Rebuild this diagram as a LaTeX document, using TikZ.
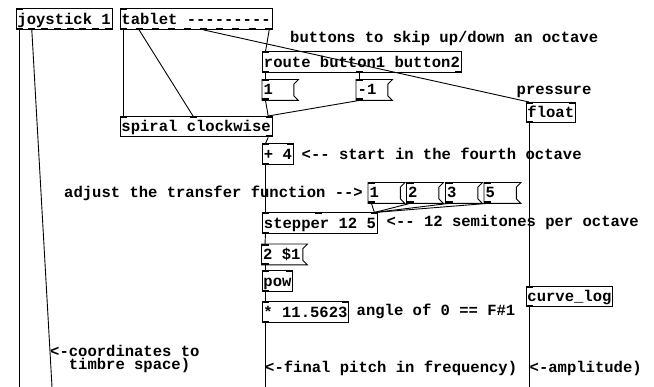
\documentclass[tikz,border=0pt]{standalone}
\usepackage{fontspec}
\setmonofont{Liberation Mono}
\newcommand\pdin[2]{\fill ([xshift=#2]#1.north west) rectangle ++(7,2);}
\newcommand\pdinr[1]{\fill ([xshift=-7pt]#1.north east) rectangle ++(7,2);}
\newcommand\pdout[2]{\fill ([xshift=#2]#1.south west) rectangle ++(7,-2);}
\newcommand\pdoutr[1]{\fill ([xshift=-7pt]#1.south east) rectangle ++(7,-2);}
\newcommand\pdmsg[1]{\draw[border] (#1.north west) -- (#1.north east) -- ([xshift=-4.5pt,yshift=-4.5pt]#1.north east) -- ([xshift=-4.5pt,yshift=4.5pt]#1.south east) -- (#1.south east) -- (#1.south west) -- cycle;}
\tikzset{
  pdtext/.style={font=\ttfamily\bfseries\fontsize{15.55}{11}\selectfont},
  obj/.style={pdtext, draw, line width=0.9pt, anchor=north west, inner xsep=1.5pt, inner ysep=0pt, minimum height=20.5pt, text height=12pt, text depth=2pt},
  msgbox/.style={pdtext, anchor=north west, inner xsep=1.5pt, inner ysep=0pt, minimum height=20.5pt, text height=12pt, text depth=2pt, text width=#1, align=left, execute at begin node={\spaceskip=0pt\xspaceskip=0pt\relax}},
  note/.style={pdtext, anchor=base west, inner sep=0pt},
  wire/.style={line width=0.9pt},
  border/.style={line width=0.9pt},
}
\begin{document}
\begin{tikzpicture}[x=1pt,y=-1pt]
\useasboundingbox (0,0) rectangle (654,387);
\fill[white] (0,0) rectangle (654,387);
% objects
\node[obj] (joy) at (15.5,8.5) {joystick 1};
\node[obj] (tab) at (119.5,8.5) {tablet ---------};
\node[obj] (route) at (262,51.5) {route button1 button2};
\node[msgbox=33pt] (m1) at (262,79.5) {1};
\node[msgbox=33pt] (mm1) at (356,79.5) {-1};
\node[obj] (spiral) at (119.5,116) {spiral clockwise};
\node[obj] (plus) at (262,143.5) {+ 4};
\node[msgbox=33.5pt] (t1) at (368,182.5) {1};
\node[msgbox=33.5pt] (t2) at (406.5,182.5) {2};
\node[msgbox=33.5pt] (t3) at (445.5,182.5) {3};
\node[msgbox=33.5pt] (t5) at (484,182.5) {5};
\node[obj] (stp) at (262,212.5) {stepper 12 5};
\node[msgbox=42.5pt] (pw) at (261.5,244) {2 \$1};
\node[obj] (pow) at (261.5,270.5) {pow};
\node[obj] (mul) at (261.5,301.5) {* 11.5623};
\node[obj] (flt) at (525.5,102) {float};
\node[obj] (clog) at (525.5,286) {curve\_log};
\foreach \m in {m1,mm1,t1,t2,t3,t5,pw} {\pdmsg{\m}}
% comments
\node[note] (c1) at (290,42.5) {buttons to skip up/down an octave};
\node[note] (c2) at (516.5,94.5) {pressure};
\node[note] (c3) at (301.5,159.5) {<-- start in the fourth octave};
\node[note] (c4) at (64,197.5) {adjust the transfer function -->};
\node[note] (c5) at (386.5,226.5) {<-- 12 semitones per octave};
\node[note] (c6) at (356.5,315.5) {angle of 0 == F\#1};
\node[note, align=left, execute at begin node={\spaceskip=0pt\xspaceskip=0pt\relax}] (c7) at (50,369.3) {<-coordinates to\\\hspace*{1.2em}timbre space)};
\node[note] (c9) at (265,372.5) {<-final pitch in frequency)};
\node[note] (c10) at (529.5,372.5) {<-amplitude)};
% many outlets of joystick and tablet
\draw[line width=2.5pt, dash pattern=on 7pt off 5.76pt] ([yshift=1pt]joy.south west) -- ([yshift=1pt]joy.south east);
\draw[line width=2.5pt, dash pattern=on 7pt off 9.14pt] ([yshift=1pt]tab.south west) -- ([yshift=1pt]tab.south east);
% inlets and outlets
\pdin{joy}{0pt} \pdin{tab}{0pt}
\pdin{route}{0pt} \pdout{route}{0pt} \pdout{route}{94pt} \pdoutr{route}
\pdin{m1}{0pt} \pdout{m1}{0pt} \pdin{mm1}{0pt} \pdout{mm1}{0pt}
\pdin{spiral}{0pt} \pdin{spiral}{70pt} \pdinr{spiral} \pdoutr{spiral}
\pdin{plus}{0pt} \pdinr{plus} \pdout{plus}{0pt}
\foreach \m in {t1,t2,t3,t5,pw,clog} {\pdin{\m}{0pt} \pdout{\m}{0pt}}
\pdin{stp}{0pt} \pdin{stp}{53pt} \pdinr{stp} \pdout{stp}{0pt}
\foreach \m in {pow,mul,flt} {\pdin{\m}{0pt} \pdinr{\m} \pdout{\m}{0pt}}
% free ends
\coordinate (jb1) at (19,387);
\coordinate (jb2) at (52,387);
\coordinate (mb) at (265,387);
\coordinate (cb) at (529,387);
% wires
\draw[wire] ([xshift=3.5pt]joy.south west) -- (jb1);
\draw[wire] ([xshift=16.3pt]joy.south west) -- (jb2);
\draw[wire] ([xshift=3.5pt]tab.south west) -- ([xshift=3.5pt]spiral.north west);
\draw[wire] ([xshift=19.6pt]tab.south west) -- ([xshift=73.5pt]spiral.north west);
\draw[wire] ([xshift=84pt]tab.south west) -- ([xshift=3.5pt]flt.north west);
\draw[wire] ([xshift=-3.5pt]tab.south east) -- ([xshift=3.5pt]route.north west);
\draw[wire] ([xshift=3.5pt]route.south west) -- ([xshift=3.5pt]m1.north west);
\draw[wire] ([xshift=97.5pt]route.south west) -- ([xshift=3.5pt]mm1.north west);
\draw[wire] ([xshift=3.5pt]m1.south west) -- ([xshift=-4.5pt]spiral.north east);
\draw[wire] ([xshift=3.5pt]mm1.south west) -- ([xshift=-4.5pt]spiral.north east);
\draw[wire] ([xshift=-4.5pt]spiral.south east) -- ([xshift=3.5pt]plus.north west);
\draw[wire] ([xshift=3.5pt]plus.south west) -- ([xshift=3.5pt]stp.north west);
\foreach \m in {t1,t2,t3,t5} {\draw[wire] ([xshift=3.5pt]\m.south west) -- ([xshift=-3.5pt]stp.north east);}
\draw[wire] ([xshift=3.5pt]stp.south west) -- ([xshift=3.5pt]pw.north west);
\draw[wire] ([xshift=3.5pt]pw.south west) -- ([xshift=3.5pt]pow.north west);
\draw[wire] ([xshift=3.5pt]pow.south west) -- ([xshift=3.5pt]mul.north west);
\draw[wire] ([xshift=3.5pt]mul.south west) -- (mb);
\draw[wire] ([xshift=3.5pt]flt.south west) -- ([xshift=3.5pt]clog.north west);
\draw[wire] ([xshift=3.5pt]clog.south west) -- (cb);
\end{tikzpicture}
\end{document}
